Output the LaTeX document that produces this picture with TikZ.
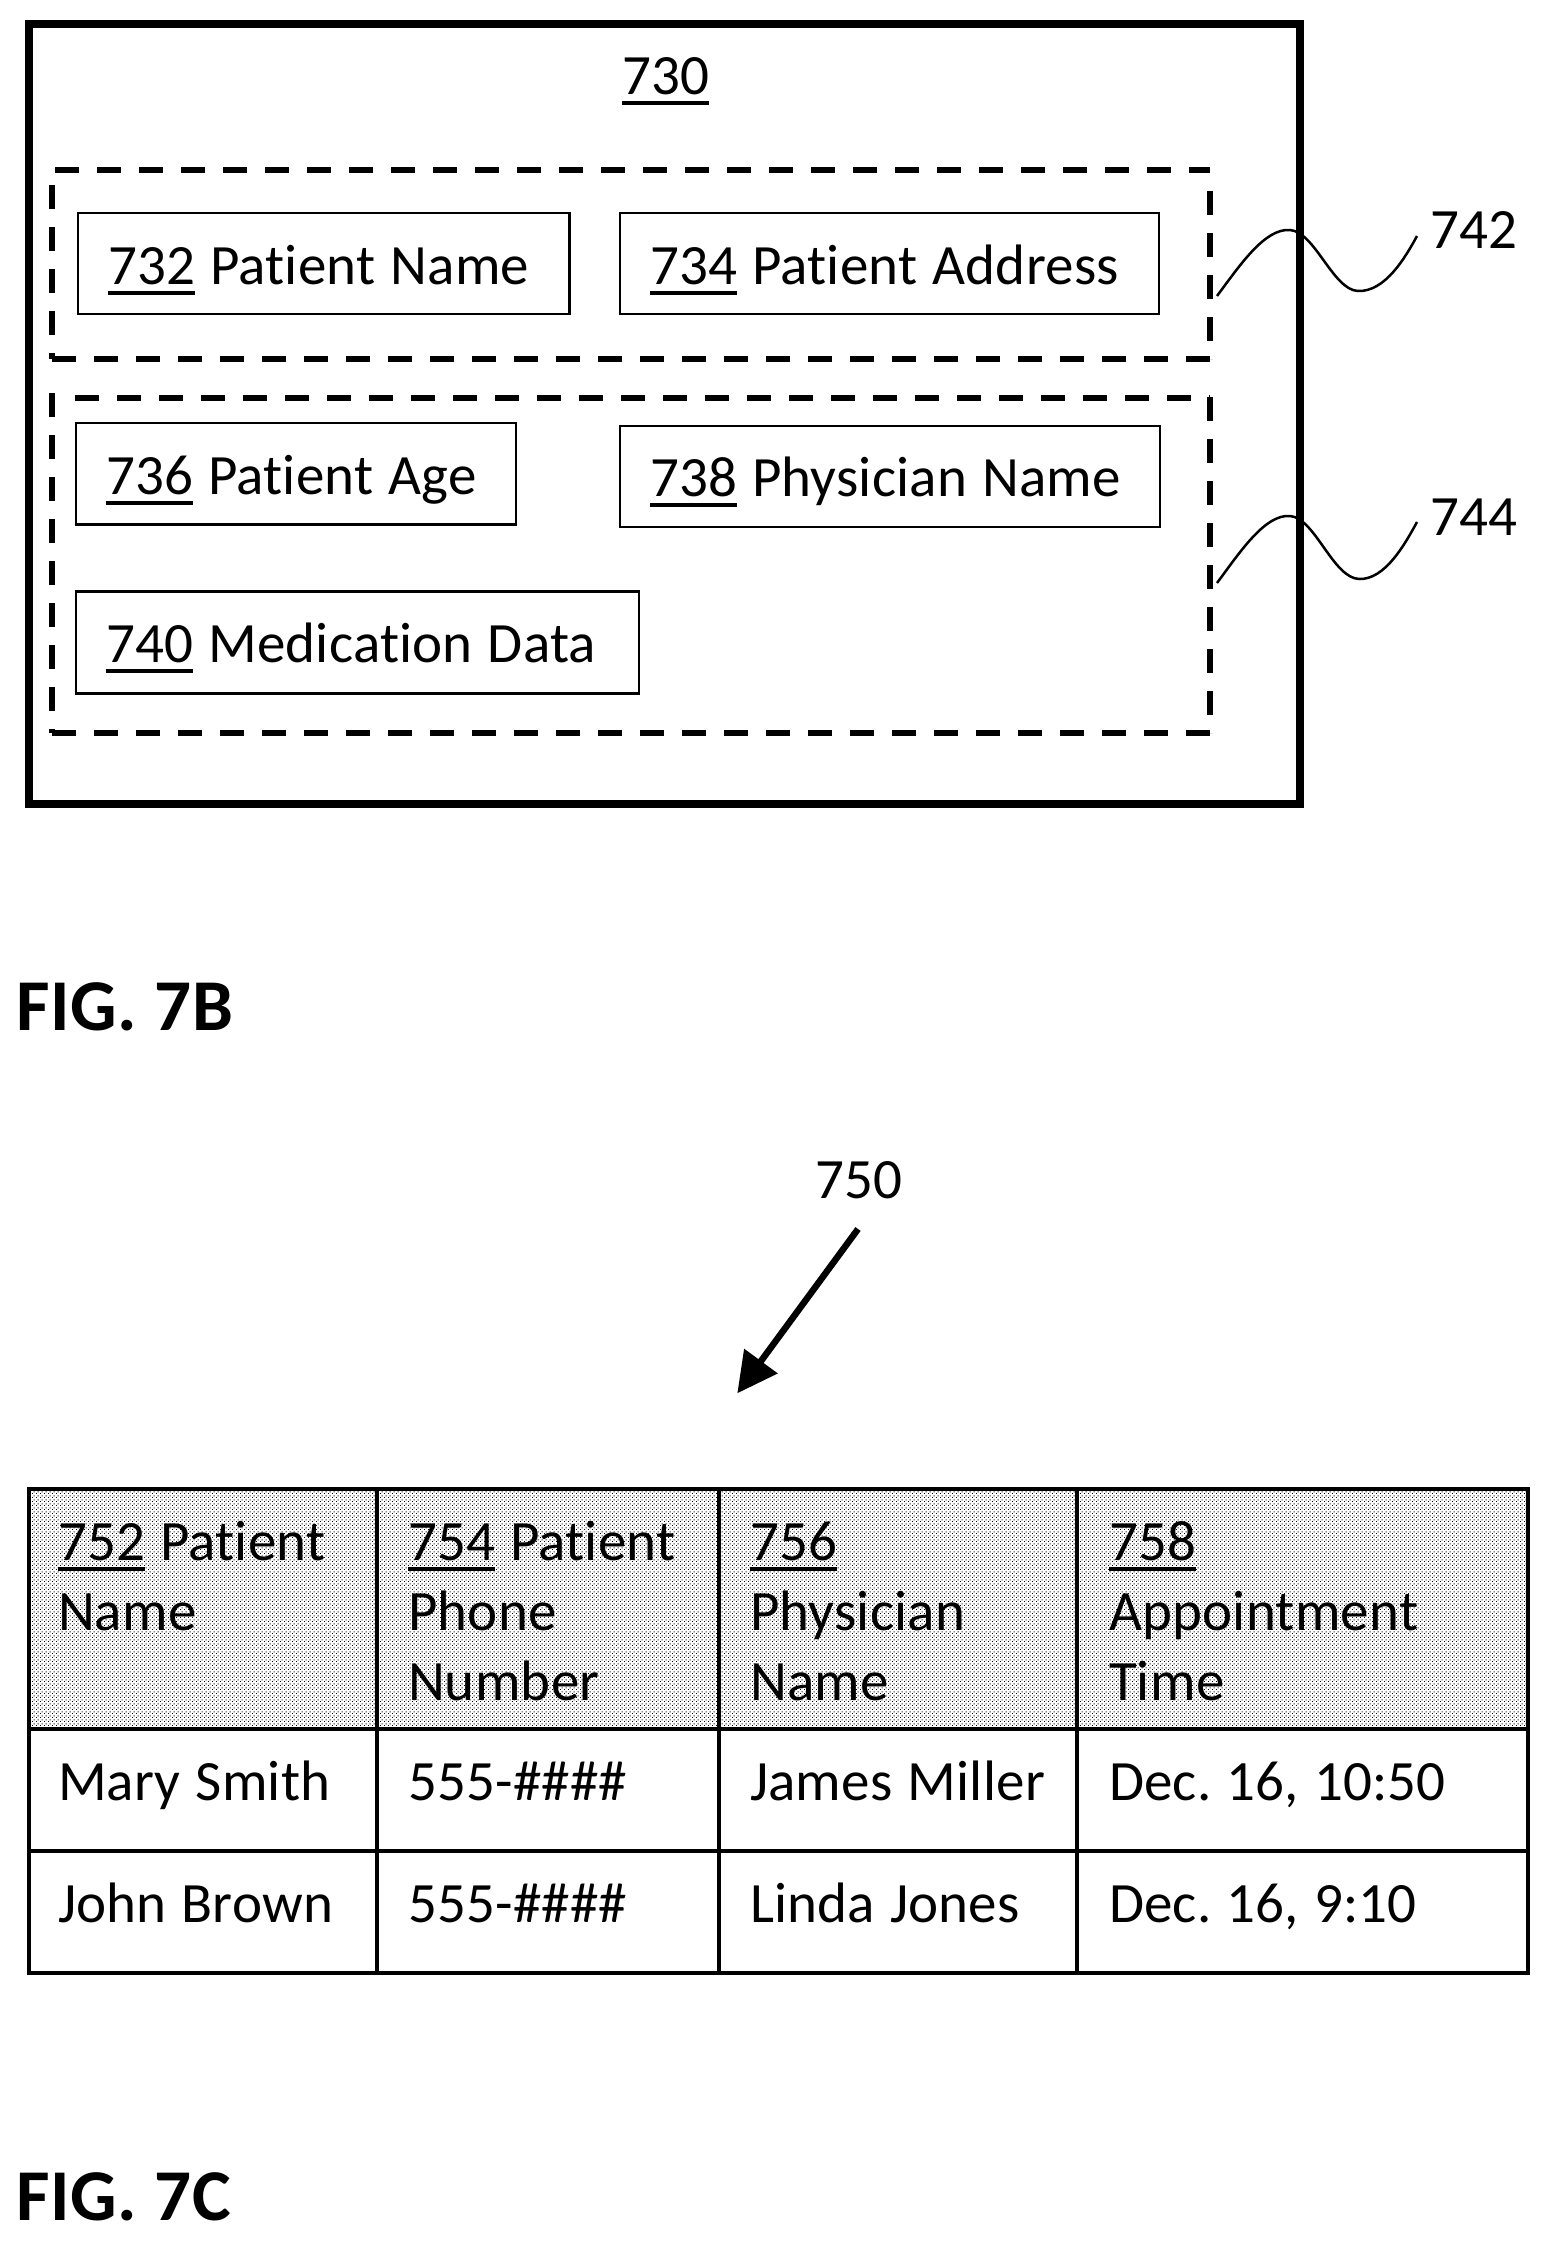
\documentclass[tikz,border=0pt]{standalone}
\usepackage{fontspec}
\setmainfont[Ligatures=NoCommon,LetterSpace=0.4]{Carlito}
\newfontfamily\figfont[Ligatures=NoCommon,LetterSpace=1]{Carlito}
\usetikzlibrary{arrows.meta,patterns}
\pgfdeclarepatternformonly{stip}{\pgfpointorigin}{\pgfqpoint{4pt}{4pt}}{\pgfqpoint{4pt}{4pt}}{%
  \pgfpathrectangle{\pgfpointorigin}{\pgfqpoint{1.2pt}{1.2pt}}%
  \pgfpathrectangle{\pgfqpoint{2pt}{2pt}}{\pgfqpoint{1.2pt}{1.2pt}}%
  \pgfusepath{fill}}
\newcommand\un[1]{\setbox0\hbox{#1}\rlap{\rule[-10.5pt]{\wd0}{4pt}}\box0\relax}
\newcommand\tightspace{\spaceskip=15pt\relax}
\frenchspacing
\tikzset{
  txt/.style={font=\fontsize{57pt}{70pt}\selectfont,execute at begin node=\tightspace},
  plain/.style={txt,anchor=base west,inner sep=0pt},
  figlabel/.style={font=\fontsize{73pt}{80pt}\selectfont\figfont\bfseries,anchor=base west,inner sep=0pt},
  outerbox/.style={draw,line width=8pt,inner sep=0pt,outer sep=0pt,anchor=north west,minimum width=1271pt,minimum height=780pt},
  dashline/.style={line width=6pt,dash pattern=on 24pt off 18pt},
  wave/.style={line width=2.5pt},
  % offset, width, above baseline, below baseline
  field/.style n args={4}{draw,line width=2.6pt,txt,anchor=north west,align=left,outer sep=0pt,
    inner xsep=#1pt,inner ysep=0pt,text width=#2pt-2*#1pt,text height=#3pt,text depth=#4pt},
  cell/.style n args={4}{draw,line width=4pt,txt,anchor=north west,align=left,outer sep=0pt,
    inner xsep=#1pt,inner ysep=0pt,text width=#2pt-2*#1pt,text height=#3pt,text depth=#4pt},
  head/.style={pattern=stip,pattern color=black},
  bigarrow/.style={line width=6.5pt,-{Triangle[length=40pt,width=40pt]}},
}
\begin{document}
\begin{tikzpicture}[x=1pt,y=-1pt]
\useasboundingbox (0,0) rectangle (1551,2242);
% FIG. 7B
\node[outerbox] (outer) at (29,24) {};
\node[plain] (t730) at (622,94.5) {\un{730}};
\coordinate (d1tl) at (55,170);
\coordinate (d1tr) at (1210,170);
\coordinate (d1rt) at (1210,191);
\coordinate (d1br) at (1210,359);
\coordinate (d1bl) at (52,359);
\coordinate (d1lt) at (52,185);
\draw[dashline] (d1tl) -- (d1tr);
\draw[dashline] (d1rt) -- (d1br);
\draw[dashline] (d1bl) -- (d1br);
\draw[dashline] (d1lt) -- (d1bl);
\coordinate (d2tl) at (75,398);
\coordinate (d2tr) at (1210,398);
\coordinate (d2rt) at (1210,397);
\coordinate (d2br) at (1210,733);
\coordinate (d2bl) at (52,733);
\coordinate (d2lt) at (52,393);
\draw[dashline] (d2tl) -- (d2tr);
\draw[dashline] (d2rt) -- (d2br);
\draw[dashline] (d2bl) -- (d2br);
\draw[dashline] (d2lt) -- (d2bl);
\node[field={30}{491.5}{71.5}{29.5}] (f732) at (78,213) {\un{732} Patient Name};
\node[field={30}{539}{71.5}{29.5}] (f734) at (620,213) {\un{734} Patient Address};
\node[field={30}{440}{71}{30.3}] (f736) at (76,423) {\un{736} Patient Age};
\node[field={30}{540}{70}{31}] (f738) at (620,426) {\un{738} Physician Name};
\node[field={30}{563}{70.5}{31.5}] (f740) at (76,591.5) {\un{740} Medication Data};
\coordinate (w1a) at (1217,296);
\coordinate (w1b) at (1290,230);
\coordinate (w1c) at (1358,291);
\coordinate (w1d) at (1417,236);
\draw[wave] (w1a) .. controls (1240,265) and (1265,228) .. (w1b)
  .. controls (1315,232) and (1333,290) .. (w1c)
  .. controls (1385,292) and (1405,258) .. (w1d);
\coordinate (w2a) at (1217,583);
\coordinate (w2b) at (1290,516);
\coordinate (w2c) at (1359,579);
\coordinate (w2d) at (1417,522);
\draw[wave] (w2a) .. controls (1240,552) and (1265,514) .. (w2b)
  .. controls (1315,518) and (1333,578) .. (w2c)
  .. controls (1385,580) and (1405,544) .. (w2d);
\node[plain] (t742) at (1430,249) {742};
\node[plain] (t744) at (1430,535) {744};
\node[figlabel] (fig7b) at (16,1030) {FIG. 7B};
% FIG. 7C
\node[plain] (t750) at (815,1198) {750};
\coordinate (a1) at (858,1229);
\coordinate (a2) at (737.3,1393.3);
\draw[bigarrow] (a1) -- (a2);
\node[cell={29.5}{348.5}{71}{169},head] (h1) at (28.5,1489) {\un{752} Patient\\Name};
\node[cell={31}{341.7}{71}{169},head] (h2) at (377,1489) {\un{754} Patient\\Phone\\Number};
\node[cell={31.3}{358.3}{71}{169},head] (h3) at (718.7,1489) {\un{756}\\Physician\\Name};
\node[cell={32}{451}{71}{169},head] (h4) at (1077,1489) {\un{758}\\Appointment\\Time};
\node[cell={29.5}{348.5}{71}{51}] (r11) at (28.5,1729) {Mary Smith};
\node[cell={31}{341.7}{71}{51}] (r12) at (377,1729) {555-\#\#\#\#};
\node[cell={31.3}{358.3}{71}{51}] (r13) at (718.7,1729) {\mbox{James Miller}};
\node[cell={32}{451}{71}{51}] (r14) at (1077,1729) {Dec. 16, 10:50};
\node[cell={29.5}{348.5}{71}{51}] (r21) at (28.5,1851) {John Brown};
\node[cell={31}{341.7}{71}{51}] (r22) at (377,1851) {555-\#\#\#\#};
\node[cell={31.3}{358.3}{71}{51}] (r23) at (718.7,1851) {Linda Jones};
\node[cell={32}{451}{71}{51}] (r24) at (1077,1851) {Dec. 16, 9:10};
\node[figlabel] (fig7c) at (16,2220) {FIG. 7C};
\end{tikzpicture}
\end{document}
